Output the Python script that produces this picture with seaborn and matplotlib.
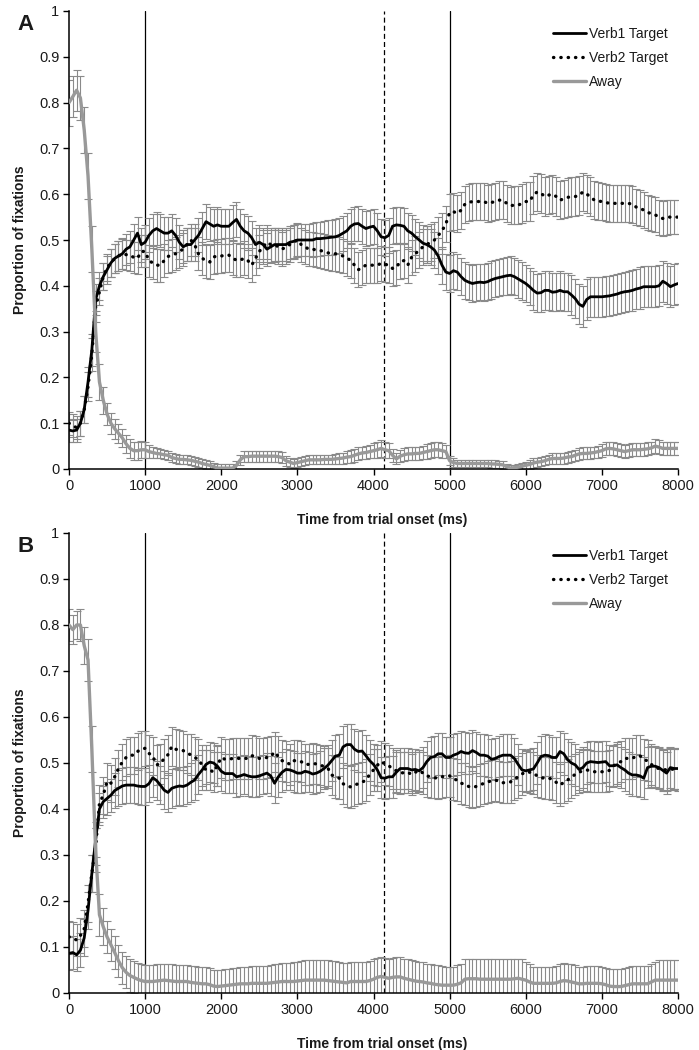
import numpy as np
import pandas as pd
import seaborn as sns
import matplotlib.pyplot as plt
from matplotlib.ticker import FuncFormatter, MultipleLocator

# --------------------------------------------------------------------------------------------
# Data: proportion of fixations, one value every 50 ms (0 .. 8000 ms), one row per second
# --------------------------------------------------------------------------------------------
time_ms = list(range(0, 8001, 50))

# Panel A
a_verb1 = [
    .085, .083, .085, .10, .13, .19, .26, .37, .40, .42, .435, .45, .46, .465, .47, .48, .485, .50, .515, .49,
    .495, .51, .52, .525, .52, .515, .515, .52, .51, .495, .485, .49, .49, .50, .51, .525, .54, .535, .53, .533,
    .53, .53, .53, .538, .545, .53, .52, .515, .505, .49, .495, .49, .48, .485, .49, .49, .49, .49, .495, .497,
    .50, .50, .50, .50, .50, .503, .503, .504, .505, .506, .507, .51, .515, .52, .53, .535, .536, .53, .525, .528,
    .53, .52, .507, .505, .51, .53, .533, .532, .53, .52, .515, .507, .50, .493, .49, .485, .478, .465, .445, .43,
    .427, .433, .43, .42, .412, .408, .405, .407, .408, .407, .409, .413, .416, .418, .42, .422, .423, .42, .415, .41,
    .405, .398, .39, .384, .385, .39, .39, .386, .387, .39, .387, .387, .38, .372, .36, .355, .37, .376, .376, .376,
    .376, .377, .378, .38, .382, .385, .387, .388, .39, .393, .395, .398, .398, .398, .398, .40, .41, .405, .398, .402,
    .405]
a_verb2 = [
    .10, .095, .09, .10, .13, .18, .25, .355, .387, .42, .44, .45, .46, .465, .47, .468, .467, .462, .46, .475,
    .475, .455, .45, .445, .445, .455, .464, .467, .47, .475, .48, .49, .50, .49, .47, .46, .455, .452, .463, .465,
    .465, .467, .467, .46, .456, .456, .46, .455, .445, .46, .475, .485, .495, .49, .49, .485, .48, .485, .49, .495,
    .50, .49, .485, .48, .48, .478, .477, .475, .472, .47, .47, .468, .465, .46, .456, .445, .435, .44, .445, .445,
    .445, .445, .449, .447, .445, .438, .44, .453, .455, .445, .462, .47, .478, .485, .49, .495, .50, .51, .52, .535,
    .56, .562, .558, .565, .578, .582, .584, .584, .584, .584, .58, .582, .584, .587, .587, .58, .575, .576, .576, .58,
    .584, .584, .598, .605, .602, .595, .598, .60, .595, .587, .59, .593, .595, .595, .597, .605, .60, .595, .587, .585,
    .584, .582, .58, .58, .58, .58, .58, .58, .578, .572, .57, .565, .56, .558, .555, .55, .547, .55, .55, .55,
    .55]
a_away = [
    .80, .813, .827, .81, .74, .64, .48, .30, .19, .15, .12, .10, .088, .078, .068, .055, .045, .04, .04, .042,
    .042, .038, .036, .034, .033, .031, .03, .025, .023, .021, .021, .02, .019, .017, .015, .012, .01, .008, .005, .002,
    .002, .002, .002, .002, .008, .02, .027, .027, .028, .028, .028, .028, .028, .028, .028, .027, .025, .018, .015, .012,
    .014, .016, .018, .02, .02, .02, .02, .021, .021, .021, .022, .023, .024, .026, .027, .03, .033, .035, .036, .038,
    .04, .042, .045, .042, .04, .03, .022, .028, .031, .033, .033, .034, .034, .036, .038, .04, .042, .042, .04, .038,
    .018, .014, .012, .012, .012, .012, .012, .012, .012, .012, .012, .011, .011, .01, .009, .005, .002, .003, .004, .006,
    .008, .01, .013, .015, .016, .018, .021, .023, .023, .023, .024, .026, .027, .03, .033, .034, .034, .035, .036, .038,
    .04, .044, .045, .044, .042, .04, .038, .04, .042, .042, .042, .043, .044, .046, .05, .048, .045, .045, .045, .045,
    .045]
a_verb1_se = [
    .025, .025, .025, .027, .03, .032, .035, .033, .03, .03, .03, .031, .032, .033, .034, .034, .035, .035, .036, .037,
    .037, .037, .037, .037, .036, .036, .036, .036, .037, .037, .036, .036, .036, .036, .037, .037, .038, .038, .038, .038,
    .038, .038, .038, .038, .038, .038, .037, .037, .037, .037, .037, .037, .036, .036, .036, .036, .036, .036, .036, .036,
    .036, .036, .036, .036, .037, .037, .037, .037, .038, .038, .038, .038, .038, .038, .038, .038, .038, .038, .038, .038,
    .038, .038, .039, .039, .039, .039, .039, .039, .039, .039, .039, .039, .039, .039, .04, .04, .04, .04, .04, .04,
    .04, .04, .04, .04, .04, .04, .04, .04, .04, .04, .041, .041, .041, .041, .041, .041, .041, .041, .041, .041,
    .041, .041, .042, .042, .042, .042, .042, .042, .042, .042, .042, .042, .043, .043, .044, .044, .044, .044, .044, .044,
    .044, .044, .044, .044, .044, .044, .044, .044, .044, .044, .045, .045, .045, .045, .045, .045, .045, .045, .045, .045,
    .045]
a_verb2_se = [
    .025, .025, .025, .027, .03, .032, .035, .033, .03, .03, .03, .031, .032, .032, .033, .033, .034, .034, .035, .035,
    .035, .035, .036, .036, .036, .036, .036, .036, .036, .036, .036, .036, .036, .036, .036, .036, .037, .037, .037, .037,
    .037, .037, .037, .037, .037, .037, .037, .037, .037, .037, .037, .037, .037, .037, .037, .037, .037, .037, .037, .037,
    .037, .037, .037, .037, .037, .037, .038, .038, .038, .038, .038, .038, .038, .038, .038, .038, .038, .038, .038, .038,
    .038, .038, .038, .038, .039, .039, .039, .039, .039, .039, .039, .039, .04, .04, .04, .04, .04, .04, .04, .04,
    .04, .04, .04, .04, .04, .04, .041, .041, .041, .041, .041, .041, .041, .041, .041, .041, .041, .041, .042, .042,
    .042, .042, .042, .042, .042, .042, .042, .042, .042, .042, .042, .042, .042, .042, .042, .042, .042, .042, .042, .042,
    .041, .041, .041, .041, .04, .04, .04, .04, .04, .04, .039, .039, .039, .039, .038, .038, .038, .038, .037, .037,
    .037]
a_away_se = [
    .05, .045, .045, .048, .05, .05, .05, .045, .04, .03, .025, .023, .022, .021, .02, .02, .02, .02, .02, .019,
    .018, .014, .012, .011, .01, .01, .01, .01, .01, .01, .01, .01, .01, .01, .01, .01, .01, .009, .008, .008,
    .008, .008, .008, .008, .01, .011, .012, .012, .012, .012, .012, .012, .012, .012, .012, .012, .012, .011, .01, .01,
    .01, .01, .01, .01, .01, .01, .01, .01, .01, .01, .01, .011, .012, .013, .014, .014, .014, .014, .015, .015,
    .016, .017, .018, .017, .016, .014, .012, .013, .014, .014, .014, .014, .014, .015, .016, .016, .016, .016, .016, .014,
    .01, .009, .008, .008, .008, .008, .008, .008, .008, .008, .008, .008, .008, .008, .008, .007, .006, .006, .006, .007,
    .008, .009, .01, .01, .01, .01, .01, .011, .012, .012, .012, .012, .012, .012, .013, .013, .013, .013, .013, .013,
    .014, .014, .014, .014, .014, .014, .014, .014, .014, .014, .014, .014, .014, .014, .015, .015, .015, .015, .015, .015,
    .015]

# Panel B
b_verb1 = [
    .086, .088, .083, .093, .12, .18, .26, .333, .40, .416, .423, .43, .44, .445, .45, .452, .452, .452, .45, .449,
    .449, .455, .468, .462, .452, .441, .436, .445, .448, .45, .449, .452, .458, .463, .475, .485, .497, .502, .50, .493,
    .482, .477, .477, .477, .47, .472, .475, .472, .47, .47, .472, .475, .478, .472, .456, .47, .48, .486, .485, .482,
    .478, .478, .482, .48, .476, .478, .482, .488, .495, .505, .515, .517, .535, .54, .54, .53, .525, .526, .516, .505,
    .497, .485, .468, .467, .47, .47, .48, .488, .488, .488, .485, .486, .483, .49, .503, .512, .514, .52, .52, .512,
    .512, .517, .52, .525, .522, .521, .527, .523, .517, .517, .515, .508, .51, .514, .517, .517, .517, .51, .497, .485,
    .483, .485, .487, .50, .514, .517, .516, .512, .512, .525, .52, .507, .50, .496, .486, .49, .50, .503, .502, .501,
    .502, .503, .494, .494, .496, .49, .485, .478, .474, .474, .472, .467, .49, .493, .493, .49, .484, .478, .49, .488,
    .488]
b_verb2 = [
    .122, .12, .115, .125, .14, .195, .26, .318, .412, .43, .46, .456, .47, .488, .502, .512, .517, .517, .525, .53,
    .532, .521, .515, .496, .498, .51, .518, .536, .53, .528, .527, .521, .518, .512, .508, .495, .485, .485, .48, .495,
    .512, .508, .508, .51, .51, .51, .51, .51, .516, .514, .51, .51, .512, .514, .524, .514, .505, .503, .497, .505,
    .505, .503, .497, .497, .499, .498, .496, .492, .489, .474, .47, .467, .455, .45, .448, .452, .455, .458, .463, .475,
    .485, .495, .503, .498, .494, .488, .483, .478, .479, .48, .475, .48, .484, .478, .472, .47, .468, .467, .47, .472,
    .472, .465, .463, .456, .454, .449, .447, .449, .452, .456, .459, .461, .463, .46, .457, .458, .459, .465, .47, .476,
    .481, .48, .478, .472, .468, .467, .467, .465, .458, .452, .458, .463, .47, .475, .48, .483, .485, .483, .481, .481,
    .481, .481, .484, .493, .50, .503, .51, .51, .51, .515, .516, .507, .505, .497, .49, .488, .486, .485, .487, .486,
    .485]
b_away = [
    .80, .79, .80, .80, .755, .724, .53, .31, .17, .144, .122, .105, .088, .07, .055, .045, .038, .034, .03, .027,
    .025, .025, .025, .026, .027, .028, .027, .026, .025, .025, .025, .025, .023, .022, .021, .02, .02, .018, .015, .014,
    .015, .016, .017, .018, .019, .02, .02, .02, .021, .021, .021, .021, .021, .022, .023, .024, .025, .025, .025, .025,
    .026, .027, .028, .028, .028, .028, .028, .028, .027, .026, .025, .024, .023, .022, .025, .025, .025, .025, .025, .027,
    .03, .034, .036, .034, .032, .034, .035, .035, .032, .03, .028, .026, .025, .024, .022, .021, .019, .018, .017, .017,
    .017, .017, .019, .022, .03, .031, .031, .031, .03, .03, .03, .03, .03, .03, .03, .03, .03, .031, .032, .03,
    .028, .024, .021, .021, .021, .021, .021, .021, .022, .025, .027, .026, .024, .022, .02, .02, .021, .021, .021, .021,
    .02, .018, .015, .014, .014, .014, .016, .018, .02, .02, .02, .02, .02, .024, .028, .028, .028, .028, .028, .028,
    .028]
b_verb1_se = [
    .035, .035, .035, .037, .04, .04, .04, .038, .035, .035, .035, .036, .038, .039, .04, .04, .04, .04, .04, .04,
    .04, .04, .041, .042, .042, .042, .042, .042, .042, .042, .042, .042, .043, .043, .043, .043, .043, .043, .043, .043,
    .043, .043, .043, .043, .043, .043, .043, .043, .043, .043, .043, .043, .043, .043, .044, .044, .044, .044, .044, .044,
    .044, .044, .044, .044, .044, .044, .044, .044, .045, .045, .045, .045, .045, .045, .045, .045, .045, .045, .045, .045,
    .045, .045, .045, .045, .045, .045, .045, .045, .045, .045, .045, .045, .045, .045, .045, .045, .045, .045, .045, .045,
    .045, .045, .045, .045, .045, .045, .045, .045, .045, .045, .045, .045, .045, .045, .045, .045, .045, .045, .045, .045,
    .045, .045, .045, .045, .045, .045, .045, .045, .045, .045, .045, .045, .045, .045, .045, .045, .045, .045, .045, .045,
    .045, .045, .045, .045, .045, .045, .045, .045, .045, .045, .045, .045, .045, .045, .045, .045, .045, .045, .045, .045,
    .045]
b_verb2_se = [
    .035, .035, .035, .037, .04, .04, .04, .04, .04, .04, .04, .04, .04, .04, .04, .04, .04, .04, .04, .04,
    .038, .04, .042, .043, .043, .043, .043, .043, .043, .043, .043, .043, .044, .044, .044, .044, .044, .044, .044, .044,
    .044, .044, .044, .044, .044, .044, .044, .044, .044, .044, .044, .044, .044, .044, .044, .044, .044, .044, .044, .044,
    .044, .044, .044, .044, .044, .044, .044, .044, .044, .044, .045, .045, .045, .045, .045, .045, .045, .045, .045, .045,
    .045, .045, .045, .045, .045, .045, .045, .045, .045, .045, .045, .045, .045, .045, .045, .045, .045, .045, .045, .045,
    .045, .045, .045, .045, .045, .045, .045, .045, .045, .045, .045, .045, .045, .045, .045, .045, .045, .045, .045, .045,
    .045, .045, .045, .045, .045, .045, .045, .045, .045, .045, .045, .045, .045, .045, .045, .045, .045, .045, .045, .045,
    .045, .045, .045, .045, .045, .045, .045, .045, .045, .045, .045, .045, .045, .045, .045, .045, .045, .045, .045, .045,
    .045]
b_away_se = [
    .035, .032, .03, .035, .04, .045, .05, .048, .045, .04, .035, .035, .035, .035, .035, .035, .035, .035, .035, .035,
    .036, .036, .036, .036, .036, .036, .036, .036, .036, .036, .036, .036, .036, .036, .036, .036, .036, .036, .036, .036,
    .036, .036, .036, .036, .036, .036, .037, .037, .037, .037, .038, .038, .038, .039, .039, .04, .04, .041, .041, .042,
    .042, .043, .043, .044, .044, .044, .044, .044, .044, .044, .044, .044, .043, .043, .043, .043, .043, .043, .043, .043,
    .043, .043, .043, .043, .043, .043, .043, .043, .043, .043, .043, .043, .043, .043, .042, .042, .042, .042, .041, .04,
    .04, .04, .041, .042, .043, .043, .043, .043, .043, .043, .043, .043, .043, .043, .043, .043, .043, .043, .043, .043,
    .04, .038, .036, .036, .036, .036, .036, .036, .037, .037, .038, .038, .038, .038, .037, .037, .037, .037, .037, .037,
    .037, .037, .037, .038, .038, .038, .038, .038, .038, .038, .038, .038, .038, .038, .04, .044, .044, .044, .044, .044,
    .044]

series_names = ['Verb1 Target', 'Verb2 Target', 'Away']
panel_labels = ['A', 'B']
marker_lines = [1000, 5000]
dashed_line = 4133

# --------------------------------------------------------------------------------------------
# Styling
# --------------------------------------------------------------------------------------------
sns.set_style('ticks')
plt.rcParams['font.family'] = ['Liberation Sans', 'DejaVu Sans']
text_color = '#1a1a1a'

line_styles = {
    'Verb1 Target': dict(color='black', linewidth=2.0, linestyle='-'),
    'Verb2 Target': dict(color='black', linewidth=2.4, linestyle=(0, (0.1, 2.1)),
                         dash_capstyle='round'),
    'Away': dict(color='#999999', linewidth=2.4, linestyle='-'),
}
err_color = '#8a8a8a'

fig = plt.figure(figsize=(6.99, 10.5), dpi=100)
ax_a = fig.add_axes([69 / 699, 1 - 469 / 1050, 609 / 699, 458 / 1050])
ax_b = fig.add_axes([69 / 699, 1 - 993 / 1050, 609 / 699, 460 / 1050])

panels = [
    (ax_a, [a_verb1, a_verb2, a_away], [a_verb1_se, a_verb2_se, a_away_se]),
    (ax_b, [b_verb1, b_verb2, b_away], [b_verb1_se, b_verb2_se, b_away_se]),
]

for (ax, means, errs), letter in zip(panels, panel_labels):
    df = pd.DataFrame({'time': time_ms * 3,
                       'prop': means[0] + means[1] + means[2],
                       'se': errs[0] + errs[1] + errs[2],
                       'series': np.repeat(series_names, len(time_ms))})

    # error bars first, so the lines sit on top
    for name in series_names[::-1]:
        sub = df[df['series'] == name]
        ax.errorbar(sub['time'], sub['prop'], yerr=sub['se'], fmt='none',
                    ecolor=err_color, elinewidth=0.8, capsize=3.0, capthick=0.8, zorder=2)

    for name in series_names:
        sub = df[df['series'] == name]
        sns.lineplot(data=sub, x='time', y='prop', ax=ax, label=name, errorbar=None,
                     zorder=3, **line_styles[name])

    for xv in marker_lines:
        ax.axvline(xv, ymin=0, ymax=1, color='black', linewidth=0.9, zorder=1)
    ax.axvline(dashed_line, ymin=0, ymax=1, color='black', linewidth=0.9,
               linestyle=(0, (4, 2.5)), zorder=1)

    ax.set_xlim(0, 8000)
    ax.set_ylim(0, 1)
    ax.xaxis.set_major_locator(MultipleLocator(1000))
    ax.yaxis.set_major_locator(MultipleLocator(0.1))
    ax.yaxis.set_major_formatter(FuncFormatter(lambda v, p: f'{v:g}'))
    ax.tick_params(axis='both', direction='out', length=4, width=1, labelsize=10.5,
                   pad=3, color='black', labelcolor=text_color)
    sns.despine(ax=ax)
    for sp in ['left', 'bottom']:
        ax.spines[sp].set_linewidth(1.1)
        ax.spines[sp].set_color('black')

    ax.set_xlabel('Time from trial onset (ms)', fontsize=10, fontweight='bold', color=text_color)
    ax.set_ylabel('Proportion of fixations', fontsize=10, fontweight='bold', color=text_color)
    ax.xaxis.set_label_coords(0.515, -0.095)
    ax.yaxis.set_label_coords(-0.069, 0.5)

    leg = ax.legend(loc='upper left', bbox_to_anchor=(0.795, 0.965), frameon=False,
                    fontsize=10, handlelength=2.4, handletextpad=0.2, labelspacing=0.72,
                    borderaxespad=0, borderpad=0)
    for t in leg.get_texts():
        t.set_color(text_color)

    ax.text(-0.072, 0.97, letter, transform=ax.transAxes, fontsize=16,
            fontweight='bold', ha='center', va='center', color=text_color)

fig.savefig('out.png', dpi=100)
